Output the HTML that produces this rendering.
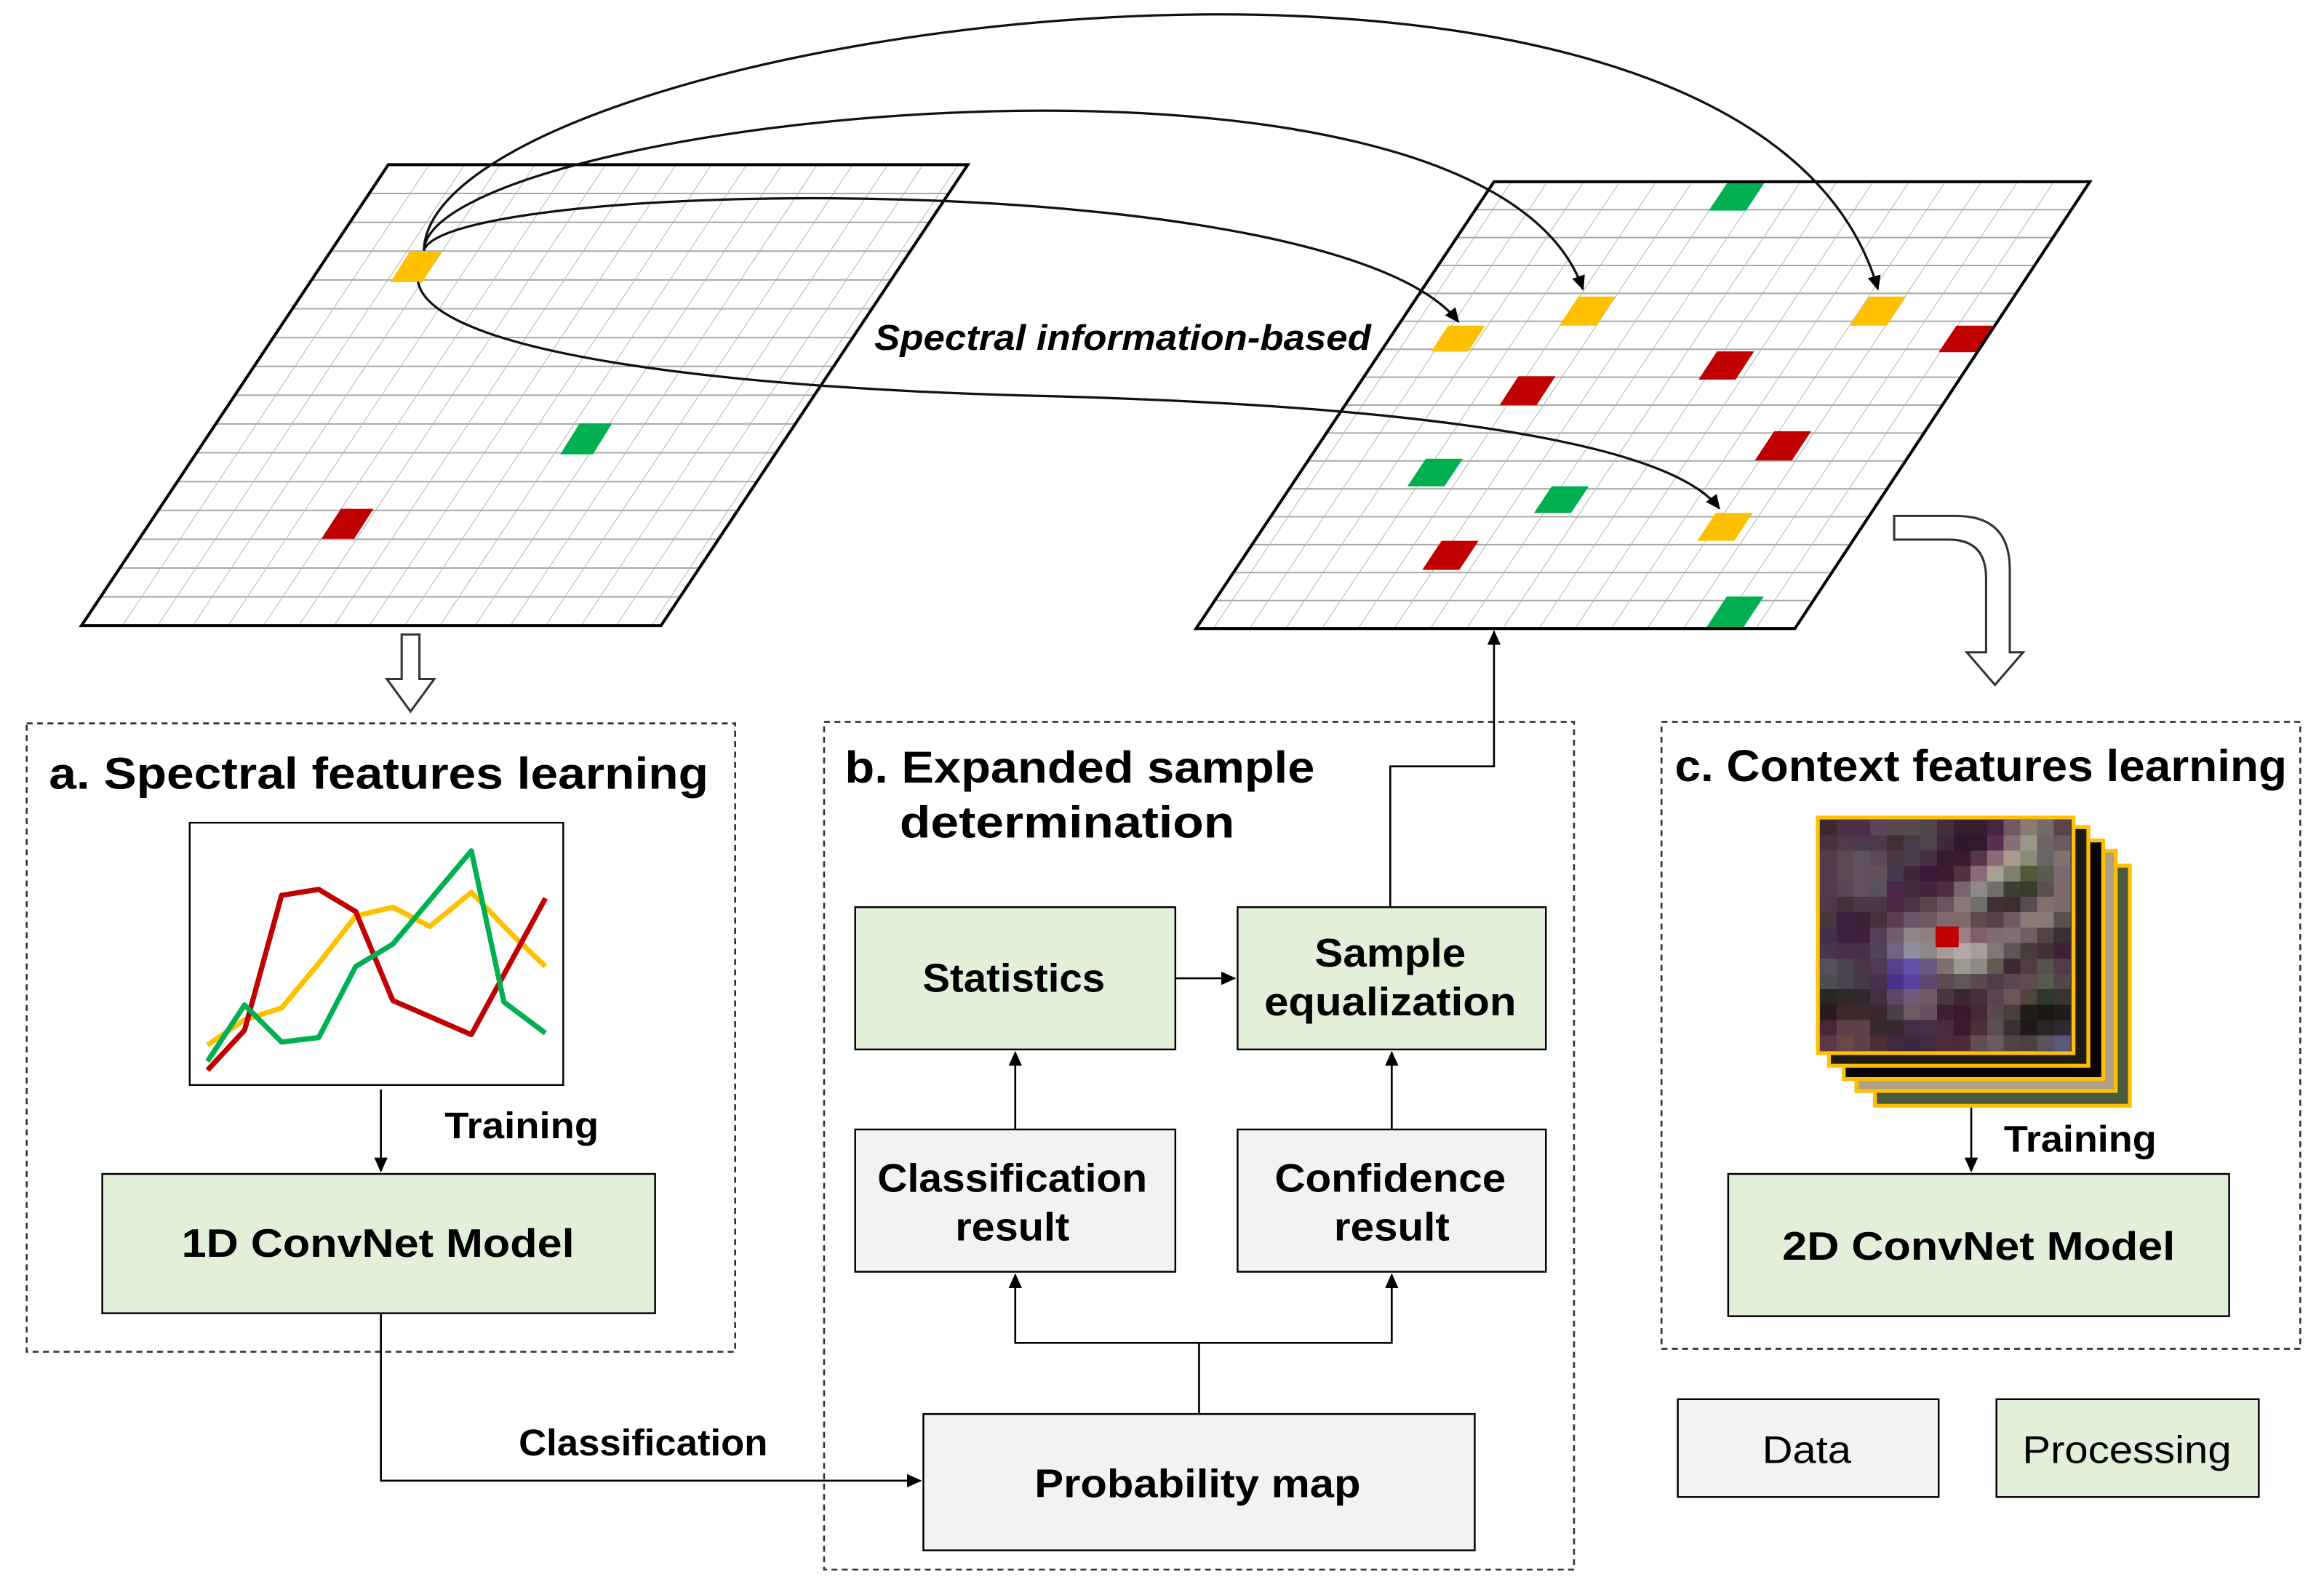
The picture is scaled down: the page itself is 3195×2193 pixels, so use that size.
<!DOCTYPE html>
<html><head><meta charset="utf-8"><style>
html,body{margin:0;padding:0;background:#fff}
svg{display:block}
text{font-family:"Liberation Sans",sans-serif;fill:#000}
.b{font-weight:bold}
</style></head><body>
<svg width="3195" height="2193" viewBox="0 0 1568 1076" xmlns="http://www.w3.org/2000/svg">
<defs>
<marker id="ah" markerWidth="10" markerHeight="10" refX="9" refY="5" orient="auto" markerUnits="userSpaceOnUse"><path d="M0,0.5 L10,5 L0,9.5 Z" fill="#000"/></marker>
</defs>
<rect width="1568" height="1076" fill="#fff"/>

<!-- Left grid -->
<g transform="matrix(23.8,0,-12.94,19.44,262,111)" fill="none">
<g stroke="#a8a8a8" stroke-width="2" vector-effect="non-scaling-stroke">
<path vector-effect="non-scaling-stroke" d="M0,1H16.43M0,2H16.43M0,3H16.43M0,4H16.43M0,5H16.43M0,6H16.43M0,7H16.43M0,8H16.43M0,9H16.43M0,10H16.43M0,11H16.43M0,12H16.43M0,13H16.43M0,14H16.43M0,15H16.43"/>
</g>
<path stroke="#b4b4b4" stroke-width="1" vector-effect="non-scaling-stroke" d="M1.16,0V16M2.16,0V16M3.16,0V16M4.16,0V16M5.16,0V16M6.16,0V16M7.16,0V16M8.16,0V16M9.16,0V16M10.16,0V16M11.16,0V16M12.16,0V16M13.16,0V16M14.16,0V16M15.16,0V16M16.16,0V16"/>
</g>
<polygon points="276.5,169.4 298,169.4 285,190.2 263.5,190.2" fill="#ffc000"/>
<polygon points="391,285.6 413,285.6 400,306.4 378,306.4" fill="#00b050"/>
<polygon points="230,343.2 252,343.2 239,363.4 217,363.4" fill="#c00000"/>
<polygon points="262,111 653,111 446,422 55,422" fill="none" stroke="#000" stroke-width="2"/>

<!-- Right grid -->
<g transform="matrix(24.4,0,-12.56,18.84,1008,122.5)" fill="none">
<path stroke="#a8a8a8" stroke-width="2" vector-effect="non-scaling-stroke" d="M0,1H16.48M0,2H16.48M0,3H16.48M0,4H16.48M0,5H16.48M0,6H16.48M0,7H16.48M0,8H16.48M0,9H16.48M0,10H16.48M0,11H16.48M0,12H16.48M0,13H16.48M0,14H16.48M0,15H16.48"/>
<path stroke="#b4b4b4" stroke-width="1" vector-effect="non-scaling-stroke" d="M0.48,0V16M1.48,0V16M2.48,0V16M3.48,0V16M4.48,0V16M5.48,0V16M6.48,0V16M7.48,0V16M8.48,0V16M9.48,0V16M10.48,0V16M11.48,0V16M12.48,0V16M13.48,0V16M14.48,0V16M15.48,0V16"/>
</g>
<g>
<polygon points="1166,122.5 1191,122.5 1178,142 1153,142" fill="#00b050"/>
<polygon points="1065,200 1090,200 1077,219.6 1052,219.6" fill="#ffc000"/>
<polygon points="1261,200 1286,200 1273,219.6 1248,219.6" fill="#ffc000"/>
<polygon points="977,219.6 1002,219.6 990.6,237.1 965.6,237.1" fill="#ffc000"/>
<polygon points="1320,219.6 1345,219.6 1333,237.5 1308,237.5" fill="#c00000"/>
<polygon points="1158.5,237 1183.5,237 1171,256 1146,256" fill="#c00000"/>
<polygon points="1024.5,253.7 1049.5,253.7 1036.7,273.3 1011.7,273.3" fill="#c00000"/>
<polygon points="1197,290.9 1222,290.9 1209,310.5 1184,310.5" fill="#c00000"/>
<polygon points="962,309.4 987,309.4 974.6,328 949.6,328" fill="#00b050"/>
<polygon points="1047,328 1072,328 1060,346 1035,346" fill="#00b050"/>
<polygon points="1157.5,346 1182.5,346 1170.2,364.8 1145.2,364.8" fill="#ffc000"/>
<polygon points="972.6,364.8 997.6,364.8 984.6,384.4 959.6,384.4" fill="#c00000"/>
<polygon points="1165,402.4 1190,402.4 1176,423.7 1151,423.7" fill="#00b050"/>
</g>
<polygon points="1008,122.5 1410,122.5 1211,424 807,424" fill="none" stroke="#000" stroke-width="2"/>

<!-- arcs -->
<g fill="none" stroke="#111" stroke-width="1.6">
<path d="M286,169 C 290,20 1180,-110 1267,195" marker-end="url(#ah)"/>
<path d="M286,169 C 290,80 1000,0 1068,195" marker-end="url(#ah)"/>
<path d="M286,169 C 300,120 900,110 984,217" marker-end="url(#ah)"/>
<path d="M282,190 C 292,240 500,262 700,267 C 900,272 1120,290 1160,343" marker-end="url(#ah)"/>
</g>
<rect x="588" y="212" width="340" height="30" fill="#fff" opacity="0"/>
<text x="590" y="236" class="b" font-style="italic" font-size="24" textLength="335" lengthAdjust="spacingAndGlyphs">Spectral  information-based</text>

<!-- hollow arrows -->
<polygon points="271,428 283,428 283,458 293,458 277,480 261,458 271,458" fill="#fff" stroke="#333" stroke-width="1.5"/>
<path d="M1278,348 L1320,348 Q1356,348 1356,384 L1356,440 L1365,440 L1346,462 L1327,440 L1340,440 L1340,390 Q1340,364 1315,364 L1278,364 Z" fill="#fff" stroke="#333" stroke-width="1.5"/>

<!-- dashed boxes -->
<g fill="none" stroke="#333" stroke-width="1.3" stroke-dasharray="4,3">
<rect x="18" y="488" width="478" height="424"/>
<rect x="556" y="487" width="506" height="572"/>
<rect x="1121" y="487" width="431" height="423"/>
</g>
<text x="33" y="532" class="b" font-size="30" textLength="445" lengthAdjust="spacingAndGlyphs">a. Spectral features learning</text>
<text x="570" y="528" class="b" font-size="30" textLength="317" lengthAdjust="spacingAndGlyphs">b. Expanded sample</text>
<text x="607" y="565" class="b" font-size="30" textLength="226" lengthAdjust="spacingAndGlyphs">determination</text>
<text x="1130" y="527" class="b" font-size="30" textLength="413" lengthAdjust="spacingAndGlyphs">c. Context features learning</text>

<!-- chart -->
<rect x="128" y="555" width="252" height="177" fill="#fff" stroke="#000" stroke-width="1.2"/>
<g fill="none" stroke-width="3.5" stroke-linejoin="round">
<polyline stroke="#ffc000" points="140,705 165,688 190,680 215,650 240,618 265,612 290,625 318,602 345,630 368,652"/>
<polyline stroke="#c00000" points="140,722 165,695 190,604 215,600 240,615 265,675 318,698 368,606"/>
<polyline stroke="#00b050" points="140,716 165,678 190,703 215,700 240,652 265,637 318,574 340,676 368,697"/>
</g>
<line x1="257" y1="735" x2="257" y2="790" stroke="#000" stroke-width="1.3" marker-end="url(#ah)"/>
<text x="300" y="768" class="b" font-size="25" textLength="104" lengthAdjust="spacingAndGlyphs">Training</text>
<rect x="69" y="792" width="373" height="94" fill="#e2efd9" stroke="#000" stroke-width="1.2"/>
<text x="255" y="848" class="b" font-size="27" text-anchor="middle" textLength="265" lengthAdjust="spacingAndGlyphs">1D ConvNet Model</text>

<!-- b boxes -->
<g stroke="#000" stroke-width="1.2">
<rect x="577" y="612" width="216" height="96" fill="#e2efd9"/>
<rect x="835" y="612" width="208" height="96" fill="#e2efd9"/>
<rect x="577" y="762" width="216" height="96" fill="#f2f2f2"/>
<rect x="835" y="762" width="208" height="96" fill="#f2f2f2"/>
<rect x="623" y="954" width="372" height="92" fill="#f2f2f2"/>
</g>
<g class="b" font-size="27" text-anchor="middle">
<text x="684" y="669" class="b" textLength="123" lengthAdjust="spacingAndGlyphs">Statistics</text>
<text x="938" y="652" class="b" textLength="102" lengthAdjust="spacingAndGlyphs">Sample</text>
<text x="938" y="685" class="b" textLength="170" lengthAdjust="spacingAndGlyphs">equalization</text>
<text x="683" y="804" class="b" textLength="182" lengthAdjust="spacingAndGlyphs">Classification</text>
<text x="683" y="837" class="b" textLength="77" lengthAdjust="spacingAndGlyphs">result</text>
<text x="938" y="804" class="b" textLength="156" lengthAdjust="spacingAndGlyphs">Confidence</text>
<text x="939" y="837" class="b" textLength="78" lengthAdjust="spacingAndGlyphs">result</text>
<text x="808" y="1010" class="b" textLength="220" lengthAdjust="spacingAndGlyphs">Probability map</text>
</g>
<g fill="none" stroke="#000" stroke-width="1.3">
<polyline points="809,954 809,906 685,906 685,860" marker-end="url(#ah)"/>
<polyline points="809,906 939,906 939,860" marker-end="url(#ah)"/>
<line x1="685" y1="762" x2="685" y2="710" marker-end="url(#ah)"/>
<line x1="939" y1="762" x2="939" y2="710" marker-end="url(#ah)"/>
<line x1="793" y1="660" x2="833" y2="660" marker-end="url(#ah)"/>
<polyline points="938,612 938,517 1008,517 1008,426" marker-end="url(#ah)"/>
<polyline points="257,886 257,999 621,999" marker-end="url(#ah)"/>
<line x1="1330" y1="747" x2="1330" y2="790" marker-end="url(#ah)"/>
</g>
<text x="350" y="982" class="b" font-size="25" textLength="168" lengthAdjust="spacingAndGlyphs">Classification</text>

<!-- image stack -->
<g stroke="#ffc000" stroke-width="2.6">
<rect x="1265" y="584" width="172" height="162" fill="#4a5a3a"/>
<rect x="1252.5" y="574" width="175" height="162" fill="#b0a088"/>
<rect x="1244" y="567" width="175" height="161" fill="#08050a"/>
<rect x="1234" y="558" width="175" height="161" fill="#1e1a16"/>
<rect x="1226.5" y="551.5" width="172.5" height="159" fill="#4a3545"/>
</g>
<g id="px" transform="translate(1228,553) scale(11.27,10.4)" shape-rendering="crispEdges"></g>
<svg x="1228" y="553" width="169" height="156" viewBox="0 0 15 15" preserveAspectRatio="none" shape-rendering="crispEdges">
<g>
<rect x="0" y="0" width="1" height="1" fill="#3a2a30"/><rect x="1" y="0" width="1" height="1" fill="#4a2f45"/><rect x="2" y="0" width="1" height="1" fill="#4a2f45"/><rect x="3" y="0" width="1" height="1" fill="#5a4558"/><rect x="4" y="0" width="1" height="1" fill="#584a4c"/><rect x="5" y="0" width="1" height="1" fill="#584a4c"/><rect x="6" y="0" width="1" height="1" fill="#4e454c"/><rect x="7" y="0" width="1" height="1" fill="#442e3e"/><rect x="8" y="0" width="1" height="1" fill="#341e30"/><rect x="9" y="0" width="1" height="1" fill="#341e30"/><rect x="10" y="0" width="1" height="1" fill="#452540"/><rect x="11" y="0" width="1" height="1" fill="#705a63"/><rect x="12" y="0" width="1" height="1" fill="#8a7a72"/><rect x="13" y="0" width="1" height="1" fill="#756a6a"/><rect x="14" y="0" width="1" height="1" fill="#5a4448"/>
<rect x="0" y="1" width="1" height="1" fill="#4a3040"/><rect x="1" y="1" width="1" height="1" fill="#503a4c"/><rect x="2" y="1" width="1" height="1" fill="#4a3a4e"/><rect x="3" y="1" width="1" height="1" fill="#4a3a4c"/><rect x="4" y="1" width="1" height="1" fill="#3e3034"/><rect x="5" y="1" width="1" height="1" fill="#4a3c4a"/><rect x="6" y="1" width="1" height="1" fill="#4e454c"/><rect x="7" y="1" width="1" height="1" fill="#3a2a3a"/><rect x="8" y="1" width="1" height="1" fill="#2e1830"/><rect x="9" y="1" width="1" height="1" fill="#301a2e"/><rect x="10" y="1" width="1" height="1" fill="#58304e"/><rect x="11" y="1" width="1" height="1" fill="#8a6e76"/><rect x="12" y="1" width="1" height="1" fill="#9a9888"/><rect x="13" y="1" width="1" height="1" fill="#706464"/><rect x="14" y="1" width="1" height="1" fill="#6a5a60"/>
<rect x="0" y="2" width="1" height="1" fill="#553a4a"/><rect x="1" y="2" width="1" height="1" fill="#5a4a55"/><rect x="2" y="2" width="1" height="1" fill="#5e5260"/><rect x="3" y="2" width="1" height="1" fill="#5a4a5a"/><rect x="4" y="2" width="1" height="1" fill="#4a3a44"/><rect x="5" y="2" width="1" height="1" fill="#4a3c4a"/><rect x="6" y="2" width="1" height="1" fill="#442e44"/><rect x="7" y="2" width="1" height="1" fill="#331c30"/><rect x="8" y="2" width="1" height="1" fill="#3a1a30"/><rect x="9" y="2" width="1" height="1" fill="#583548"/><rect x="10" y="2" width="1" height="1" fill="#8a6a76"/><rect x="11" y="2" width="1" height="1" fill="#a89a8e"/><rect x="12" y="2" width="1" height="1" fill="#8a8a78"/><rect x="13" y="2" width="1" height="1" fill="#6a646a"/><rect x="14" y="2" width="1" height="1" fill="#80706e"/>
<rect x="0" y="3" width="1" height="1" fill="#553a4d"/><rect x="1" y="3" width="1" height="1" fill="#5a4a55"/><rect x="2" y="3" width="1" height="1" fill="#605060"/><rect x="3" y="3" width="1" height="1" fill="#605058"/><rect x="4" y="3" width="1" height="1" fill="#453a4e"/><rect x="5" y="3" width="1" height="1" fill="#3e2838"/><rect x="6" y="3" width="1" height="1" fill="#381a38"/><rect x="7" y="3" width="1" height="1" fill="#3e1a30"/><rect x="8" y="3" width="1" height="1" fill="#553040"/><rect x="9" y="3" width="1" height="1" fill="#8a6c78"/><rect x="10" y="3" width="1" height="1" fill="#a8a090"/><rect x="11" y="3" width="1" height="1" fill="#808070"/><rect x="12" y="3" width="1" height="1" fill="#505a3a"/><rect x="13" y="3" width="1" height="1" fill="#5a5a50"/><rect x="14" y="3" width="1" height="1" fill="#7a6a70"/>
<rect x="0" y="4" width="1" height="1" fill="#553a4d"/><rect x="1" y="4" width="1" height="1" fill="#5a4458"/><rect x="2" y="4" width="1" height="1" fill="#605060"/><rect x="3" y="4" width="1" height="1" fill="#585060"/><rect x="4" y="4" width="1" height="1" fill="#48284a"/><rect x="5" y="4" width="1" height="1" fill="#42283a"/><rect x="6" y="4" width="1" height="1" fill="#44243e"/><rect x="7" y="4" width="1" height="1" fill="#502c44"/><rect x="8" y="4" width="1" height="1" fill="#7a6470"/><rect x="9" y="4" width="1" height="1" fill="#908888"/><rect x="10" y="4" width="1" height="1" fill="#707068"/><rect x="11" y="4" width="1" height="1" fill="#3e3e30"/><rect x="12" y="4" width="1" height="1" fill="#3a3a2e"/><rect x="13" y="4" width="1" height="1" fill="#5a5050"/><rect x="14" y="4" width="1" height="1" fill="#7a6a6e"/>
<rect x="0" y="5" width="1" height="1" fill="#50384a"/><rect x="1" y="5" width="1" height="1" fill="#45303e"/><rect x="2" y="5" width="1" height="1" fill="#4a3846"/><rect x="3" y="5" width="1" height="1" fill="#4a3848"/><rect x="4" y="5" width="1" height="1" fill="#4a2844"/><rect x="5" y="5" width="1" height="1" fill="#4e3545"/><rect x="6" y="5" width="1" height="1" fill="#5a454c"/><rect x="7" y="5" width="1" height="1" fill="#6a5660"/><rect x="8" y="5" width="1" height="1" fill="#8a7a76"/><rect x="9" y="5" width="1" height="1" fill="#707068"/><rect x="10" y="5" width="1" height="1" fill="#3e3034"/><rect x="11" y="5" width="1" height="1" fill="#402c30"/><rect x="12" y="5" width="1" height="1" fill="#5a4c55"/><rect x="13" y="5" width="1" height="1" fill="#807070"/><rect x="14" y="5" width="1" height="1" fill="#7a6a6a"/>
<rect x="0" y="6" width="1" height="1" fill="#48353e"/><rect x="1" y="6" width="1" height="1" fill="#3a2240"/><rect x="2" y="6" width="1" height="1" fill="#3c2238"/><rect x="3" y="6" width="1" height="1" fill="#48303e"/><rect x="4" y="6" width="1" height="1" fill="#5a3e52"/><rect x="5" y="6" width="1" height="1" fill="#6a566a"/><rect x="6" y="6" width="1" height="1" fill="#6e5a5e"/><rect x="7" y="6" width="1" height="1" fill="#806a70"/><rect x="8" y="6" width="1" height="1" fill="#806a6a"/><rect x="9" y="6" width="1" height="1" fill="#604a50"/><rect x="10" y="6" width="1" height="1" fill="#58404c"/><rect x="11" y="6" width="1" height="1" fill="#6e5a62"/><rect x="12" y="6" width="1" height="1" fill="#8a7a76"/><rect x="13" y="6" width="1" height="1" fill="#8a7a76"/><rect x="14" y="6" width="1" height="1" fill="#5a5050"/>
<rect x="0" y="7" width="1" height="1" fill="#42304a"/><rect x="1" y="7" width="1" height="1" fill="#3c2240"/><rect x="2" y="7" width="1" height="1" fill="#3e2038"/><rect x="3" y="7" width="1" height="1" fill="#524055"/><rect x="4" y="7" width="1" height="1" fill="#6e5e70"/><rect x="5" y="7" width="1" height="1" fill="#908486"/><rect x="6" y="7" width="1" height="1" fill="#907e80"/><rect x="7" y="7" width="1" height="1" fill="#c00000"/><rect x="8" y="7" width="1" height="1" fill="#9a8080"/><rect x="9" y="7" width="1" height="1" fill="#805e6a"/><rect x="10" y="7" width="1" height="1" fill="#806a74"/><rect x="11" y="7" width="1" height="1" fill="#806e74"/><rect x="12" y="7" width="1" height="1" fill="#706064"/><rect x="13" y="7" width="1" height="1" fill="#504444"/><rect x="14" y="7" width="1" height="1" fill="#3a3034"/>
<rect x="0" y="8" width="1" height="1" fill="#48354a"/><rect x="1" y="8" width="1" height="1" fill="#48304a"/><rect x="2" y="8" width="1" height="1" fill="#48304a"/><rect x="3" y="8" width="1" height="1" fill="#504458"/><rect x="4" y="8" width="1" height="1" fill="#706480"/><rect x="5" y="8" width="1" height="1" fill="#908ca0"/><rect x="6" y="8" width="1" height="1" fill="#908888"/><rect x="7" y="8" width="1" height="1" fill="#a89c98"/><rect x="8" y="8" width="1" height="1" fill="#b4a8a8"/><rect x="9" y="8" width="1" height="1" fill="#a89c9c"/><rect x="10" y="8" width="1" height="1" fill="#807878"/><rect x="11" y="8" width="1" height="1" fill="#605658"/><rect x="12" y="8" width="1" height="1" fill="#4a3c3c"/><rect x="13" y="8" width="1" height="1" fill="#403038"/><rect x="14" y="8" width="1" height="1" fill="#3e2036"/>
<rect x="0" y="9" width="1" height="1" fill="#58505e"/><rect x="1" y="9" width="1" height="1" fill="#4a4452"/><rect x="2" y="9" width="1" height="1" fill="#48384a"/><rect x="3" y="9" width="1" height="1" fill="#4e3a52"/><rect x="4" y="9" width="1" height="1" fill="#58408a"/><rect x="5" y="9" width="1" height="1" fill="#6050a8"/><rect x="6" y="9" width="1" height="1" fill="#6a5880"/><rect x="7" y="9" width="1" height="1" fill="#806e70"/><rect x="8" y="9" width="1" height="1" fill="#9c9890"/><rect x="9" y="9" width="1" height="1" fill="#908a84"/><rect x="10" y="9" width="1" height="1" fill="#625a4e"/><rect x="11" y="9" width="1" height="1" fill="#3e2a30"/><rect x="12" y="9" width="1" height="1" fill="#503c44"/><rect x="13" y="9" width="1" height="1" fill="#5a5050"/><rect x="14" y="9" width="1" height="1" fill="#503c46"/>
<rect x="0" y="10" width="1" height="1" fill="#504e55"/><rect x="1" y="10" width="1" height="1" fill="#4a4450"/><rect x="2" y="10" width="1" height="1" fill="#443a46"/><rect x="3" y="10" width="1" height="1" fill="#483050"/><rect x="4" y="10" width="1" height="1" fill="#4a3088"/><rect x="5" y="10" width="1" height="1" fill="#5a40a0"/><rect x="6" y="10" width="1" height="1" fill="#5e4a6e"/><rect x="7" y="10" width="1" height="1" fill="#5a4c50"/><rect x="8" y="10" width="1" height="1" fill="#605858"/><rect x="9" y="10" width="1" height="1" fill="#5a4a4e"/><rect x="10" y="10" width="1" height="1" fill="#503c48"/><rect x="11" y="10" width="1" height="1" fill="#5a4650"/><rect x="12" y="10" width="1" height="1" fill="#604c50"/><rect x="13" y="10" width="1" height="1" fill="#585a50"/><rect x="14" y="10" width="1" height="1" fill="#504848"/>
<rect x="0" y="11" width="1" height="1" fill="#282820"/><rect x="1" y="11" width="1" height="1" fill="#302826"/><rect x="2" y="11" width="1" height="1" fill="#342830"/><rect x="3" y="11" width="1" height="1" fill="#403040"/><rect x="4" y="11" width="1" height="1" fill="#5a4866"/><rect x="5" y="11" width="1" height="1" fill="#705a7a"/><rect x="6" y="11" width="1" height="1" fill="#6e5a66"/><rect x="7" y="11" width="1" height="1" fill="#483640"/><rect x="8" y="11" width="1" height="1" fill="#3a2830"/><rect x="9" y="11" width="1" height="1" fill="#462e3a"/><rect x="10" y="11" width="1" height="1" fill="#5a4250"/><rect x="11" y="11" width="1" height="1" fill="#6a5656"/><rect x="12" y="11" width="1" height="1" fill="#504638"/><rect x="13" y="11" width="1" height="1" fill="#303628"/><rect x="14" y="11" width="1" height="1" fill="#383430"/>
<rect x="0" y="12" width="1" height="1" fill="#2a1a20"/><rect x="1" y="12" width="1" height="1" fill="#3e2828"/><rect x="2" y="12" width="1" height="1" fill="#3e2a2a"/><rect x="3" y="12" width="1" height="1" fill="#382830"/><rect x="4" y="12" width="1" height="1" fill="#4a3e46"/><rect x="5" y="12" width="1" height="1" fill="#6e5a64"/><rect x="6" y="12" width="1" height="1" fill="#685060"/><rect x="7" y="12" width="1" height="1" fill="#401e35"/><rect x="8" y="12" width="1" height="1" fill="#3a1630"/><rect x="9" y="12" width="1" height="1" fill="#442838"/><rect x="10" y="12" width="1" height="1" fill="#5a4a4e"/><rect x="11" y="12" width="1" height="1" fill="#4a3e3e"/><rect x="12" y="12" width="1" height="1" fill="#201c18"/><rect x="13" y="12" width="1" height="1" fill="#181810"/><rect x="14" y="12" width="1" height="1" fill="#201c1a"/>
<rect x="0" y="13" width="1" height="1" fill="#482838"/><rect x="1" y="13" width="1" height="1" fill="#5e4048"/><rect x="2" y="13" width="1" height="1" fill="#5a4248"/><rect x="3" y="13" width="1" height="1" fill="#382830"/><rect x="4" y="13" width="1" height="1" fill="#382830"/><rect x="5" y="13" width="1" height="1" fill="#442e44"/><rect x="6" y="13" width="1" height="1" fill="#443048"/><rect x="7" y="13" width="1" height="1" fill="#4a2a3e"/><rect x="8" y="13" width="1" height="1" fill="#3a1a2e"/><rect x="9" y="13" width="1" height="1" fill="#4a2e38"/><rect x="10" y="13" width="1" height="1" fill="#5a4e52"/><rect x="11" y="13" width="1" height="1" fill="#3a3034"/><rect x="12" y="13" width="1" height="1" fill="#201818"/><rect x="13" y="13" width="1" height="1" fill="#282424"/><rect x="14" y="13" width="1" height="1" fill="#302830"/>
<rect x="0" y="14" width="1" height="1" fill="#5a3848"/><rect x="1" y="14" width="1" height="1" fill="#6a4848"/><rect x="2" y="14" width="1" height="1" fill="#5e4046"/><rect x="3" y="14" width="1" height="1" fill="#4a3036"/><rect x="4" y="14" width="1" height="1" fill="#402a40"/><rect x="5" y="14" width="1" height="1" fill="#3c2840"/><rect x="6" y="14" width="1" height="1" fill="#442a40"/><rect x="7" y="14" width="1" height="1" fill="#4e2a3c"/><rect x="8" y="14" width="1" height="1" fill="#4e2a38"/><rect x="9" y="14" width="1" height="1" fill="#604e52"/><rect x="10" y="14" width="1" height="1" fill="#6a5a62"/><rect x="11" y="14" width="1" height="1" fill="#4e4444"/><rect x="12" y="14" width="1" height="1" fill="#4a4040"/><rect x="13" y="14" width="1" height="1" fill="#5a5060"/><rect x="14" y="14" width="1" height="1" fill="#5a5878"/>
</g>
</svg>
<rect x="1306" y="625" width="15.5" height="14" fill="#c00000"/>

<text x="1352" y="777" class="b" font-size="25" textLength="103" lengthAdjust="spacingAndGlyphs">Training</text>
<rect x="1166" y="792" width="338" height="96" fill="#e2efd9" stroke="#000" stroke-width="1.2"/>
<text x="1335" y="850" class="b" font-size="27" text-anchor="middle" textLength="265" lengthAdjust="spacingAndGlyphs">2D ConvNet Model</text>

<!-- legend -->
<rect x="1132" y="944" width="176" height="66" fill="#f2f2f2" stroke="#000" stroke-width="1.2"/>
<rect x="1347" y="944" width="177" height="66" fill="#e2efd9" stroke="#000" stroke-width="1.2"/>
<text x="1219" y="987" font-size="26" text-anchor="middle" textLength="60" lengthAdjust="spacingAndGlyphs">Data</text>
<text x="1435" y="987" font-size="26" text-anchor="middle" textLength="141" lengthAdjust="spacingAndGlyphs">Processing</text>
</svg>
</body></html>
